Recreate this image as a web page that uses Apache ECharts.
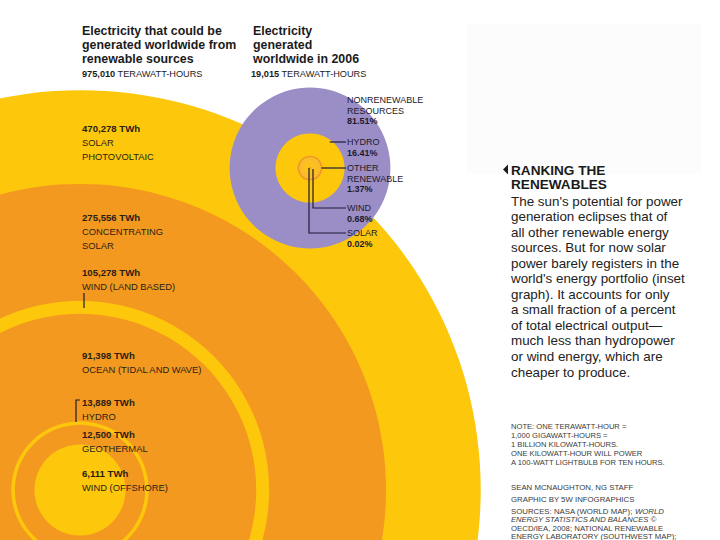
<!DOCTYPE html>
<html>
<head>
<meta charset="utf-8">
<script src="https://cdn.jsdelivr.net/npm/echarts@6/dist/echarts.min.js"></script>
<style>
  html, body { margin: 0; padding: 0; background: #ffffff; }
  #chart { width: 720px; height: 540px; }
</style>
</head>
<body>
<div id="chart"></div>
<script>
// ---------------- DATA ----------------
const potentialTotalTWh = 975010;
const generation2006TotalTWh = 19015;

const renewableSources = ['SOLAR\nPHOTOVOLTAIC', 'CONCENTRATING\nSOLAR', 'WIND (LAND BASED)', 'OCEAN (TIDAL AND WAVE)', 'HYDRO', 'GEOTHERMAL', 'WIND (OFFSHORE)'];
const renewableTWh = [470278, 275556, 105278, 91398, 13889, 12500, 6111];

const generationSources = ['NONRENEWABLE\nRESOURCES', 'HYDRO', 'OTHER\nRENEWABLE', 'WIND', 'SOLAR'];
const generationPct = [81.51, 16.41, 1.37, 0.68, 0.02];

const titleLeft = ['Electricity that could be', 'generated worldwide from', 'renewable sources'];
const titleRight = ['Electricity', 'generated', 'worldwide in 2006'];
const unitLabel = 'TERAWATT-HOURS';

const headline = ['RANKING THE', 'RENEWABLES'];
const bodyLines = [
  "The sun's potential for power",
  'generation eclipses that of',
  'all other renewable energy',
  'sources. But for now solar',
  'power barely registers in the',
  "world's energy portfolio (inset",
  'graph). It accounts for only',
  'a small fraction of a percent',
  'of total electrical output\u2014',
  'much less than hydropower',
  'or wind energy, which are',
  'cheaper to produce.'
];
const noteLines = [
  'NOTE: ONE TERAWATT-HOUR =',
  '1,000 GIGAWATT-HOURS =',
  '1 BILLION KILOWATT-HOURS.',
  'ONE KILOWATT-HOUR WILL POWER',
  'A 100-WATT LIGHTBULB FOR TEN HOURS.'
];
const creditLines = ['SEAN MCNAUGHTON, NG STAFF', 'GRAPHIC BY 5W INFOGRAPHICS'];

// ---------------- STYLE / LAYOUT ----------------
const YELLOW = '#FDC70B';
const ORANGE = '#F4991F';
const PURPLE = '#9B8EC6';
const INK = '#2A1E16';
const LINE = '#1E1B38';
const SANS = '"Liberation Sans", Arial, "DejaVu Sans", sans-serif';

// circle area proportional to TWh: radius axis is in sqrt(TWh)
const RAD_AXIS_MAX = 1000;      // sqrt(TWh)
const RAD_AXIS_PX = 583;        // pixels for RAD_AXIS_MAX
const C1 = [80, 490];           // centre of the potential circles
const C2 = [310, 168];          // centre of the 2006 inset
const rPx = v => RAD_AXIS_PX * Math.sqrt(v) / RAD_AXIS_MAX;

const fmt = n => n.toLocaleString('en-US');

// ---------------- SERIES ----------------
const series = [];
renewableTWh.forEach((v, i) => {
  series.push({
    type: 'bar', coordinateSystem: 'polar', polarIndex: 0,
    name: renewableSources[i].replace('\n', ' '),
    data: [Math.sqrt(v)],
    barGap: '-100%', barCategoryGap: '0%',
    z: 2 + i,
    itemStyle: { color: i % 2 === 0 ? YELLOW : ORANGE },
    silent: true, animation: false
  });
});

// inset: cumulative shares from the innermost outwards
const genTWh = generationPct.map(p => generation2006TotalTWh * p / 100);
const cumSolar = genTWh[4];
const cumWind = genTWh[3] + genTWh[4];
const cumOther = genTWh[2] + genTWh[3] + genTWh[4];
const cumRenew = genTWh[1] + genTWh[2] + genTWh[3] + genTWh[4];
const insetCircles = [
  { v: generation2006TotalTWh, style: { color: PURPLE } },
  { v: cumRenew, style: { color: YELLOW } },
  { v: cumOther, style: { color: '#FBBC2A', borderColor: '#F0962A', borderWidth: 1.6 } },
  { v: cumWind, style: { color: '#FCC21C' } },
  { v: cumSolar, style: { color: '#F0962A' } }
];
insetCircles.forEach((c, i) => {
  series.push({
    type: 'bar', coordinateSystem: 'polar', polarIndex: 1,
    name: 'inset' + i,
    data: [Math.sqrt(c.v)],
    barGap: '-100%', barCategoryGap: '0%',
    z: 20 + i,
    itemStyle: c.style,
    silent: true, animation: false
  });
});

// ---------------- TEXT / GRAPHICS ----------------
const g = [];
function txt(x, y, text, opt) {
  g.push({
    type: 'text', x: x, y: y, silent: true, z: 100,
    style: Object.assign({ text: text, fill: INK, font: '9px ' + SANS, verticalAlign: 'middle', align: 'left' }, opt || {})
  });
}
function line(points) {
  g.push({ type: 'polyline', silent: true, z: 100, shape: { points: points }, style: { stroke: LINE, lineWidth: 1.2, fill: null } });
}

// faint panel top right
g.push({ type: 'rect', silent: true, z: 0, shape: { x: 467, y: 24, width: 234, height: 150 }, style: { fill: '#FCFCFC' } });

// titles
titleLeft.forEach((t, i) => txt(82, 31 + i * 14, t, { font: 'bold 12.4px ' + SANS, fill: '#1b1b1b' }));
titleRight.forEach((t, i) => txt(253, 31 + i * 14, t, { font: 'bold 12.4px ' + SANS, fill: '#1b1b1b' }));
txt(82, 74, '{b|' + fmt(potentialTotalTWh) + '} ' + unitLabel, { font: '9.2px ' + SANS, fill: '#1b1b1b',
  rich: { b: { font: 'bold 9.2px ' + SANS, fill: '#1b1b1b' } } });
txt(251, 74, '{b|' + fmt(generation2006TotalTWh) + '} ' + unitLabel, { font: '9.2px ' + SANS, fill: '#1b1b1b',
  rich: { b: { font: 'bold 9.2px ' + SANS, fill: '#1b1b1b' } } });

// left labels
const leftLabelY = [128, 217, 272, 355, 402, 434, 473];
renewableTWh.forEach((v, i) => {
  const y = leftLabelY[i];
  txt(82, y, fmt(v) + ' TWh', { font: 'bold 9.6px ' + SANS });
  renewableSources[i].split('\n').forEach((s, j) => txt(82, y + 14 + j * 14, s, { font: '9.4px ' + SANS }));
});
line([[84, 293], [84, 308]]);
line([[80, 400], [76, 400], [76, 422]]);

// inset labels
const insetX = 347;
const insetY = [100, 142, 168, 208, 233];
generationSources.forEach((s, i) => {
  const parts = s.split('\n');
  parts.forEach((p, j) => txt(insetX, insetY[i] + j * 10.5, p, { font: '9px ' + SANS, fill: '#1c1a2e' }));
  txt(insetX, insetY[i] + parts.length * 10.5, generationPct[i].toFixed(2) + '%', { font: 'bold 9px ' + SANS, fill: '#1c1a2e' });
});
// leader lines in inset
const rRenew = rPx(cumRenew), rOther = rPx(cumOther);
line([[C2[0] + Math.sqrt(rRenew * rRenew - Math.pow(C2[1] - insetY[1], 2)) - 3, insetY[1]], [insetX - 1, insetY[1]]]);
line([[C2[0] + rOther, insetY[2]], [insetX - 1, insetY[2]]]);
line([[C2[0] + 3, C2[1] + 1], [C2[0] + 3, insetY[3]], [insetX - 1, insetY[3]]]);
line([[C2[0] - 1, C2[1]], [C2[0] - 1, insetY[4]], [insetX - 1, insetY[4]]]);

// right text
g.push({ type: 'polygon', silent: true, z: 100, shape: { points: [[508, 164.5], [508, 174.5], [503, 169.5]] }, style: { fill: '#1b1b1b' } });
headline.forEach((t, i) => txt(511, 170 + i * 14.5, t, { font: 'bold 13.6px ' + SANS, fill: '#1b1b1b' }));
bodyLines.forEach((t, i) => txt(511, 201 + i * 15.55, t, { font: '13.4px ' + SANS, fill: '#222222' }));
noteLines.forEach((t, i) => txt(511, 426 + i * 9, t, { font: '7.6px ' + SANS, fill: '#3a3a3a' }));
creditLines.forEach((t, i) => txt(511, 487 + i * 12, t, { font: '7.8px ' + SANS, fill: '#3a3a3a' }));
txt(511, 511, '{n|SOURCES: NASA (WORLD MAP); }{i|WORLD}', { font: '7.8px ' + SANS, fill: '#3a3a3a',
  rich: { n: { font: '7.8px ' + SANS, fill: '#3a3a3a' }, i: { font: 'italic 7.8px ' + SANS, fill: '#3a3a3a' } } });
txt(511, 519.5, '{i|ENERGY STATISTICS AND BALANCES} {n|\u00A9}', { font: '7.6px ' + SANS, fill: '#3a3a3a',
  rich: { n: { font: '7.6px ' + SANS, fill: '#3a3a3a' }, i: { font: 'italic 7.6px ' + SANS, fill: '#3a3a3a' } } });
txt(511, 528, 'OECD/IEA, 2008; NATIONAL RENEWABLE', { font: '7.8px ' + SANS, fill: '#3a3a3a' });
txt(511, 536.5, 'ENERGY LABORATORY (SOUTHWEST MAP);', { font: '7.8px ' + SANS, fill: '#3a3a3a' });

// ---------------- CHART ----------------
const chart = echarts.init(document.getElementById('chart'), null, { renderer: 'svg' });
chart.setOption({
  backgroundColor: '#ffffff',
  animation: false,
  polar: [
    { center: C1, radius: RAD_AXIS_PX },
    { center: C2, radius: RAD_AXIS_PX }
  ],
  angleAxis: [
    { polarIndex: 0, type: 'category', data: ['potential'], startAngle: 90, show: false },
    { polarIndex: 1, type: 'category', data: ['2006'], startAngle: 90, show: false }
  ],
  radiusAxis: [
    { polarIndex: 0, type: 'value', min: 0, max: RAD_AXIS_MAX, show: false },
    { polarIndex: 1, type: 'value', min: 0, max: RAD_AXIS_MAX, show: false }
  ],
  series: series,
  graphic: g
});
</script>
</body>
</html>
